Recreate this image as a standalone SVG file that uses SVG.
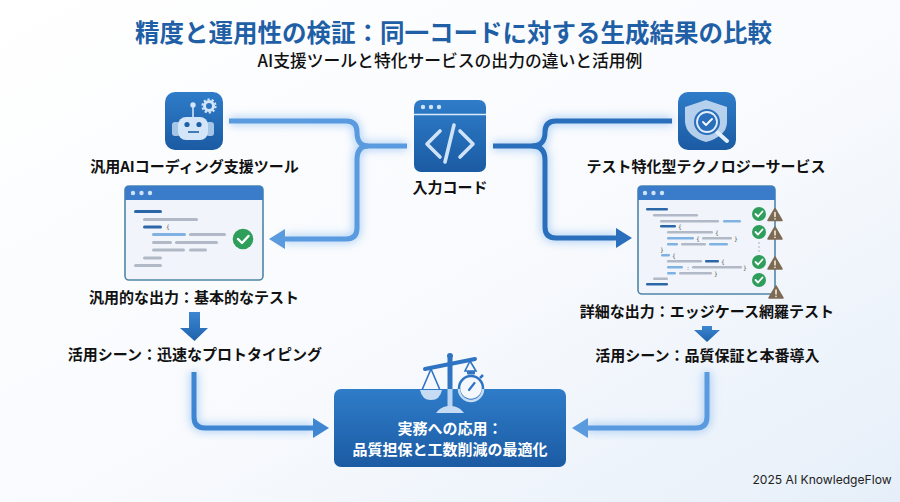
<svg xmlns="http://www.w3.org/2000/svg" width="900" height="502" viewBox="0 0 900 502">
<style>
text{font-family:"Noto Sans CJK JP","Noto Sans",sans-serif;text-anchor:middle;fill:#111}
.lab{font-size:15px;font-weight:700}
.glow{fill:none;stroke:#7db4f0;stroke-width:9;stroke-opacity:.55;filter:url(#blur)}
.lt{fill:none;stroke:#5a9ade;stroke-width:5}
.dk{fill:none;stroke:#2a6fbb;stroke-width:5}
.win{fill:#f1f5fb;stroke:#4f86a8;stroke-width:1.6}
.head{fill:#3a7cc9}
.dot{fill:#cfe2f6}
.bd{fill:#2b66a8}.bg{fill:#b1b9c6}.bl{fill:#7fb2e3}
.br{font-size:6px;font-family:"DejaVu Sans",sans-serif;fill:#555}
.ck{fill:none;stroke:#fff;stroke-width:1.8;stroke-linecap:round;stroke-linejoin:round}
.tri{fill:#7d6a55;stroke:#7d6a55;stroke-width:1.5;stroke-linejoin:round}
.ex{stroke:#f3ead9;stroke-width:1.6;stroke-linecap:round}
.ic{fill:#d3e5f8}
</style>
<defs>
<linearGradient id="bgg" x1="0" y1="0" x2="1" y2="1"><stop offset="0" stop-color="#ffffff"/><stop offset=".55" stop-color="#f8fafd"/><stop offset="1" stop-color="#e6eff9"/></linearGradient>
<linearGradient id="ig" x1="0" y1="0" x2="0" y2="1"><stop offset="0" stop-color="#2f7cc9"/><stop offset="1" stop-color="#1b5ba3"/></linearGradient>
<linearGradient id="ag" x1="0" y1="0" x2="0" y2="1"><stop offset="0" stop-color="#3c86d2"/><stop offset="1" stop-color="#1f62ad"/></linearGradient>
<filter id="blur" x="-20%" y="-20%" width="140%" height="140%"><feGaussianBlur stdDeviation="4.5"/></filter>
<marker id="ml" markerUnits="userSpaceOnUse" markerWidth="17" markerHeight="22" viewBox="0 0 17 22" refX="1" refY="11" orient="auto"><path d="M0 1L16 11L0 21Z" fill="#5a9ade"/></marker>
<marker id="md" markerUnits="userSpaceOnUse" markerWidth="17" markerHeight="22" viewBox="0 0 17 22" refX="1" refY="11" orient="auto"><path d="M0 1L16 11L0 21Z" fill="#2a6fbb"/></marker>
<marker id="mm" markerUnits="userSpaceOnUse" markerWidth="17" markerHeight="22" viewBox="0 0 17 22" refX="1" refY="11" orient="auto"><path d="M0 1L16 11L0 21Z" fill="#3f86d2"/></marker>
</defs>
<rect width="900" height="502" fill="url(#bgg)"/>

<text x="453.500" y="42" font-size="24.500" font-weight="700" style="fill:#1f5fa6">精度と運用性の検証：同一コードに対する生成結果の比較</text>
<text x="450" y="67" font-size="16.800" font-weight="500">AI支援ツールと特化サービスの出力の違いと活用例</text>

<g id="connectors">
<path class="glow" d="M229 121H346Q357 121 357 132Q357 146 368 146H407M368 146Q357 146 357 160V228Q357 239 346 239H284"/>
<path class="glow" d="M493 146H532Q545 146 545 132Q545 121 556 121H672M532 146Q545 146 545 160V227Q545 238 556 238H617"/>
<path class="glow" d="M194 372V417Q194 428 205 428H314"/>
<path class="glow" d="M707 372V417Q707 428 696 428H587"/>
<path class="lt" d="M229 121H346Q357 121 357 132Q357 146 368 146H407"/>
<path class="lt" d="M368 146Q357 146 357 160V228Q357 239 346 239H284" marker-end="url(#ml)"/>
<path class="dk" d="M493 146H532Q545 146 545 132Q545 121 556 121H672"/>
<path class="dk" d="M532 146Q545 146 545 160V227Q545 238 556 238H617" marker-end="url(#md)"/>
<path class="dk" style="stroke:#3f86d2" d="M194 372V417Q194 428 205 428H314" marker-end="url(#mm)"/>
<path class="lt" d="M707 372V417Q707 428 696 428H587" marker-end="url(#ml)"/>
<path fill="url(#ag)" d="M189 312H200V328H208L194.500 341L180 328H189Z"/>
<path fill="url(#ag)" d="M702 326H712V330H720L707 342L694 330H702Z"/>
</g>

<g id="node-robot">
<rect x="165" y="92" width="58" height="58" rx="10" fill="url(#ig)"/>
<rect x="172" y="122" width="8" height="14" rx="3" class="ic" opacity=".75"/>
<rect x="206" y="122" width="8" height="14" rx="3" class="ic" opacity=".75"/>
<rect x="178" y="117" width="30" height="23" rx="8" class="ic"/>
<path d="M193 106V117" stroke="#d3e5f8" stroke-width="1.600"/>
<circle cx="193" cy="105" r="2.700" class="ic"/>
<circle cx="187" cy="124.500" r="2.600" fill="#1f5fa6"/>
<circle cx="199" cy="124.500" r="2.600" fill="#1f5fa6"/>
<path d="M188 132H199" stroke="#1f5fa6" stroke-width="1.600"/>
<circle cx="209" cy="106" r="4.500" fill="none" stroke="#d3e5f8" stroke-width="3"/>
<circle cx="209" cy="106" r="6.600" fill="none" stroke="#d3e5f8" stroke-width="2" stroke-dasharray="2.200 2"/>
<text class="lab" x="194.500" y="172">汎用AIコーディング支援ツール</text>
</g>

<g id="node-input">
<rect x="414" y="100" width="72" height="72" rx="7" fill="url(#ig)"/>
<path d="M414 114.500H486" stroke="#dbe9f8" stroke-width="1.500"/>
<circle cx="423" cy="107" r="2.200" class="dot"/><circle cx="431" cy="107" r="2.200" class="dot"/><circle cx="439" cy="107" r="2.200" class="dot"/>
<path d="M440 131L427 144L440 157M460 131L473 144L460 157M454 125L445 162" fill="none" stroke="#cfe3f8" stroke-width="3.600" stroke-linecap="round" stroke-linejoin="round"/>
<text class="lab" x="450" y="193">入力コード</text>
</g>

<g id="node-shield">
<rect x="678" y="92" width="58" height="58" rx="10" fill="url(#ig)"/>
<path d="M706 100L727 107V122Q727 136 706 142Q686 136 685 122V107Z" fill="#cfe2f6" fill-opacity=".85"/>
<path d="M717 132L727 141" stroke="#e3eefa" stroke-width="4" stroke-linecap="round"/>
<circle cx="707" cy="122" r="12" fill="#2a6fbb" stroke="#2a6fbb" stroke-width="2"/>
<circle cx="707" cy="122" r="10" fill="#2a6fbb" stroke="#e3eefa" stroke-width="1.800"/>
<path d="M703 122L706 125L712 119" class="ck"/>
<text class="lab" x="706" y="172">テスト特化型テクノロジーサービス</text>
</g>

<g id="node-output-left">
<rect x="125" y="186" width="138" height="94" rx="4" class="win"/>
<path class="head" d="M125 200V190Q125 186 129 186H259Q263 186 263 190V200Z"/>
<circle cx="133" cy="193" r="2.200" class="dot"/><circle cx="141.500" cy="193" r="2.200" class="dot"/><circle cx="150" cy="193" r="2.200" class="dot"/>
<rect class="bd" x="134" y="210" width="28" height="3" rx="1.500"/>
<rect class="bg" x="143" y="218" width="55" height="3" rx="1.500"/>
<rect class="bd" x="143" y="225.500" width="19" height="3" rx="1.500"/>
<text class="br" x="168" y="229">{</text>
<rect class="bl" x="152" y="233" width="34" height="3" rx="1.500"/>
<rect class="bg" x="189" y="233" width="37" height="3" rx="1.500"/>
<rect class="bg" x="152" y="241" width="20" height="3" rx="1.500"/>
<rect class="bg" x="175" y="241" width="43" height="3" rx="1.500"/>
<rect class="bg" x="152" y="248.500" width="33" height="3" rx="1.500"/>
<rect class="bg" x="189" y="248.500" width="18" height="3" rx="1.500"/>
<rect class="bg" x="143" y="256.500" width="19" height="3" rx="1.500"/>
<rect class="bg" x="134" y="264" width="28" height="3" rx="1.500"/>
<circle cx="243" cy="239" r="10.300" fill="#2f9e5b"/>
<path d="M238 239L242 243L248.500 236" class="ck" style="stroke-width:2.400"/>
<text class="lab" x="194" y="303">汎用的な出力：基本的なテスト</text>
</g>

<g id="node-output-right">
<rect x="638" y="186" width="137" height="108" rx="4" class="win"/>
<path class="head" d="M638 200V190Q638 186 642 186H771Q775 186 775 190V200Z"/>
<circle cx="645" cy="193" r="2.200" class="dot"/><circle cx="653.500" cy="193" r="2.200" class="dot"/><circle cx="662" cy="193" r="2.200" class="dot"/>
<rect class="bd" x="646" y="208" width="22" height="2.500" rx="1.200"/>
<rect class="bg" x="653" y="214" width="45" height="2.500" rx="1.200"/>
<rect class="bg" x="660" y="220" width="59" height="2.500" rx="1.200"/>
<rect class="bl" x="723" y="220" width="18" height="2.500" rx="1.200"/>
<rect class="bd" x="660" y="225" width="16" height="2.500" rx="1.200"/>
<text class="br" x="680" y="228.500">{</text>
<rect class="bg" x="667" y="231" width="46" height="2.500" rx="1.200"/>
<text class="br" x="717" y="234.500">{</text>
<rect class="bl" x="667" y="237" width="27" height="2.500" rx="1.200"/>
<text class="br" x="698" y="240.500">{</text>
<rect class="bg" x="702" y="237" width="30" height="2.500" rx="1.200"/>
<text class="br" x="736" y="240.500">}</text>
<rect class="bl" x="667" y="243" width="11" height="2.500" rx="1.200"/>
<rect class="bg" x="681" y="243" width="25" height="2.500" rx="1.200"/>
<rect class="bl" x="709" y="243" width="19" height="2.500" rx="1.200"/>
<text class="br" x="662" y="251.500">}</text>
<rect class="bl" x="661" y="254" width="9" height="2.500" rx="1.200"/>
<text class="br" x="674" y="257.500">{</text>
<rect class="bg" x="667" y="260" width="35" height="2.500" rx="1.200"/>
<rect class="bd" x="705" y="260" width="14" height="2.500" rx="1.200"/>
<text class="br" x="723" y="263.500">{</text>
<rect class="bl" x="667" y="266" width="16" height="2.500" rx="1.200"/>
<text class="br" x="688" y="269.500">:</text>
<rect class="bg" x="692" y="266" width="50" height="2.500" rx="1.200"/>
<text class="br" x="745" y="269.500">}</text>
<rect class="bl" x="667" y="272" width="9" height="2.500" rx="1.200"/>
<rect class="bg" x="679" y="272" width="33" height="2.500" rx="1.200"/>
<text class="br" x="716" y="275.500">}</text>
<rect class="bg" x="653" y="277.500" width="15" height="2.500" rx="1.200"/>
<rect class="bd" x="646" y="283" width="22" height="2.500" rx="1.200"/>
<circle cx="759" cy="214" r="7" fill="#2f9e5b"/><path d="M755.500 214L758 216.500L762.500 211.500" class="ck"/>
<circle cx="759" cy="232" r="7" fill="#2f9e5b"/><path d="M755.500 232L758 234.500L762.500 229.500" class="ck"/>
<circle cx="759" cy="262" r="7" fill="#2f9e5b"/><path d="M755.500 262L758 264.500L762.500 259.500" class="ck"/>
<circle cx="759" cy="280" r="7" fill="#2f9e5b"/><path d="M755.500 280L758 282.500L762.500 277.500" class="ck"/>
<circle cx="759" cy="243" r=".8" fill="#9aa6b5"/><circle cx="759" cy="247" r=".8" fill="#9aa6b5"/><circle cx="759" cy="251" r=".8" fill="#9aa6b5"/>
<path class="tri" d="M775 208.500L782 220.500H768Z"/><path class="ex" d="M775 212.500V216.500M775 218.800V219"/>
<path class="tri" d="M775 227L782 239H768Z"/><path class="ex" d="M775 231V235M775 237.300V237.500"/>
<path class="tri" d="M775 257L782 269H768Z"/><path class="ex" d="M775 261V265M775 267.300V267.500"/>
<path class="tri" d="M776 286L783 298H769Z"/><path class="ex" d="M776 290V294M776 296.300V296.500"/>
<text class="lab" x="707" y="317">詳細な出力：エッジケース網羅テスト</text>
</g>

<g id="node-scene-left"><text class="lab" x="195" y="360">活用シーン：迅速なプロトタイピング</text></g>
<g id="node-scene-right"><text class="lab" x="707.500" y="361">活用シーン：品質保証と本番導入</text></g>

<g id="node-practice">
<rect x="334" y="389" width="232" height="78" rx="7" fill="url(#ig)"/>
<path d="M447.500 358H452.500V389H447.500Z" fill="#2f74c2"/>
<circle cx="450" cy="356" r="3" fill="#2f74c2"/>
<path d="M425 369L475 359" stroke="#2f74c2" stroke-width="4" stroke-linecap="round"/>
<path d="M447.500 389H452.500V407H447.500Z" fill="#b9d5f1"/>
<path d="M436 413Q440 407 448 406H452Q460 407 464 413Z" fill="#c5dcf4"/>
<path d="M431 369L422 390M431 369L440 390" stroke="#2f74c2" stroke-width="1.600" fill="none"/>
<path d="M420 390H442Q440 400 431 400Q422 400 420 390Z" fill="#c5dcf4"/>
<path d="M470 361L465 371H476Z" fill="none" stroke="#2f74c2" stroke-width="1.600"/>
<rect x="467" y="371" width="8" height="3.500" rx="1" fill="#2f74c2"/>
<circle cx="471" cy="388" r="12" fill="#f4f8fd" stroke="#2f74c2" stroke-width="2.500"/>
<path d="M459 389A12 12 0 0 0 483 389" fill="none" stroke="#c5dcf4" stroke-width="2.500"/>
<path d="M469 390L474.500 383" stroke="#2f74c2" stroke-width="2.200" stroke-linecap="round"/>
<path d="M480 378L483 375" stroke="#2f74c2" stroke-width="2.500"/>
<text class="lab" x="450" y="434" style="fill:#fff">実務への応用：</text>
<text class="lab" x="450" y="455" style="fill:#fff">品質担保と工数削減の最適化</text>
</g>

<text x="822" y="484" font-size="12.100" style="font-family:Inter,'Liberation Sans',sans-serif;fill:#222">2025 AI KnowledgeFlow</text>
</svg>
